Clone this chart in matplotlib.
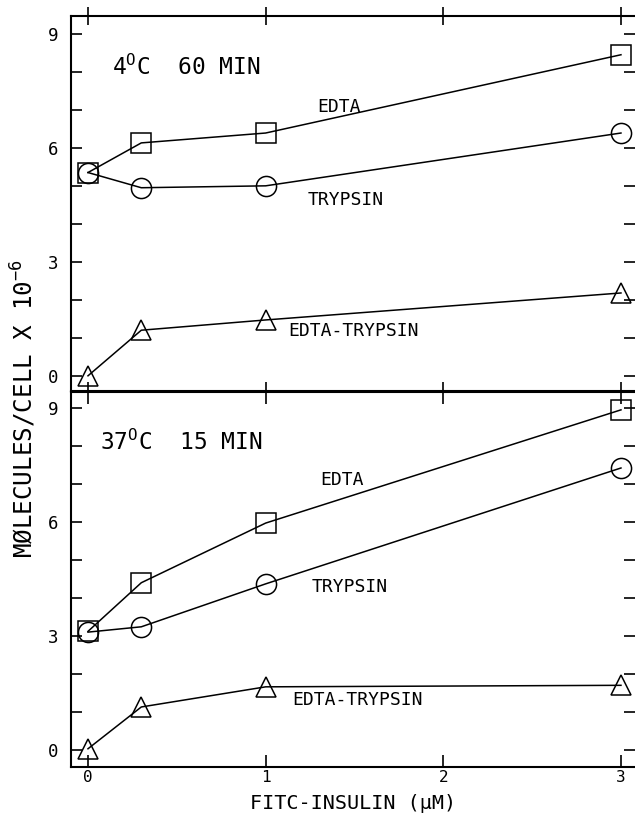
import matplotlib
matplotlib.use('Agg')
import matplotlib.pyplot as plt
from matplotlib.ticker import MultipleLocator

plt.rcParams['font.family'] = ['DejaVu Sans Mono', 'DejaVu Sans']
plt.rcParams['mathtext.fontset'] = 'custom'
plt.rcParams['mathtext.rm'] = 'DejaVu Sans Mono'
plt.rcParams['mathtext.it'] = 'DejaVu Sans Mono'
plt.rcParams['mathtext.bf'] = 'DejaVu Sans Mono'

conc = [0, 0.3, 1, 3]

# 4 C, 60 min
edta_4 = [5.35, 6.13, 6.39, 8.45]
tryp_4 = [5.35, 4.95, 5.0, 6.39]
both_4 = [0.0, 1.2, 1.47, 2.18]

# 37 C, 15 min
edta_37 = [3.12, 4.4, 5.97, 8.95]
tryp_37 = [3.1, 3.24, 4.37, 7.42]
both_37 = [0.03, 1.13, 1.66, 1.7]

xticks = [0, 1, 2, 3]
yticks = [0, 3, 6, 9]
names = ['EDTA', 'TRYPSIN', 'EDTA-TRYPSIN']

W, H = 635, 813
fig = plt.figure(figsize=(6.35, 8.13), dpi=100)
ax1 = fig.add_axes([71 / W, 1 - 391 / H, 1 - 71 / W, 375 / H])
ax2 = fig.add_axes([71 / W, 1 - 767 / H, 1 - 71 / W, 375 / H])

# (axes, series, title, title pos, label pos, ylim)
panels = [
    (ax1, edta_4, tryp_4, both_4, '4$^{\\rm O}$C  60 MIN', (112, 75),
     [(317, 112), (308, 205), (288, 336)], (-0.4, 9.47)),
    (ax2, edta_37, tryp_37, both_37, '37$^{\\rm O}$C  15 MIN', (100, 450),
     [(320, 485), (312, 592), (292, 705)], (-0.45, 9.42)),
]

mk = dict(color='black', lw=1.1, mfc='none', mec='black', mew=1.1, ms=14.5)

for ax, ed, tr, bo, title, tpos, lab, ylim in panels:
    ax.plot(conc, ed, marker='s', **mk)
    ax.plot(conc, tr, marker='o', **mk)
    ax.plot(conc, bo, marker='^', **mk)
    ax.set_xlim(-0.0957, 3.079)
    ax.set_ylim(*ylim)
    ax.set_yticks(yticks)
    ax.yaxis.set_minor_locator(MultipleLocator(1))
    ax.set_xticks(xticks)
    for s in ax.spines.values():
        s.set_linewidth(1.5)
    ax.spines['right'].set_visible(False)
    ax.tick_params(axis='y', which='both', direction='in', left=True, right=True,
                   length=8, width=1.2, labelsize=12.5, pad=9)
    ax.tick_params(axis='x', direction='in', top=True, bottom=True,
                   length=8.5, width=1.2, labelsize=11.5, pad=2)
    fig.text(tpos[0] / W, 1 - tpos[1] / H, title, fontsize=16.5, va='baseline')
    for name, (px, py) in zip(names, lab):
        fig.text(px / W, 1 - py / H, name, fontsize=13, va='baseline')

ax1.tick_params(axis='x', which='major', labelbottom=False, direction='inout',
                length=13, top=True, bottom=True)
ax2.tick_params(axis='x', labeltop=False)

fig.text(24 / W, 1 - 409 / H, 'M\u00d8LECULES/CELL X 10$^{-6}$', rotation=90,
         ha='center', va='center', fontsize=17.5)
fig.text(353 / W, 1 - 812.5 / H, 'FITC-INSULIN (\u03bcM)', ha='center',
         va='bottom', fontsize=14.5)

fig.savefig('out.png', dpi=100)
